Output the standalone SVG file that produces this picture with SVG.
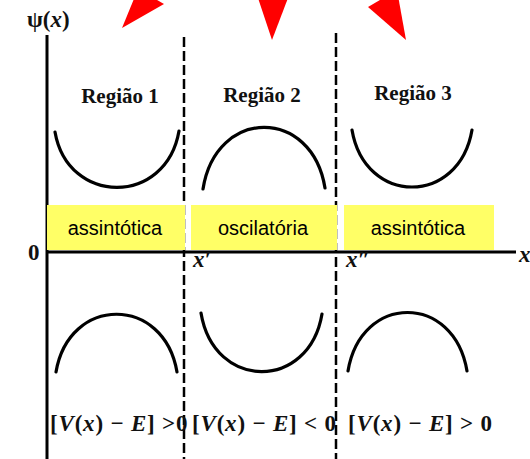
<svg xmlns="http://www.w3.org/2000/svg" width="530" height="459" viewBox="0 0 530 459">
<style>
.axis{stroke:#000;stroke-width:3;fill:none}
.dash{stroke:#000;stroke-width:2.5;stroke-dasharray:10 4;fill:none}
.curve{stroke:#000;stroke-width:3.2;fill:none;stroke-linecap:round}
.arrow{fill:#ff0000}
.box{fill:#ffff66}
.reg{font-family:"Liberation Serif",serif;font-weight:bold;font-size:21px;fill:#111}
.lbl{font-family:"Liberation Sans",Arial,sans-serif;font-size:20px;fill:#000}
.math{font-family:"Liberation Serif",serif;font-weight:bold;font-size:23px;fill:#111}
.cond{letter-spacing:0.8px}
.it{font-style:italic}
</style>
<rect width="530" height="459" fill="#fff"/>
<g id="pointers">
<polygon class="arrow" points="122,28 138,-11 164,4"/>
<polygon class="arrow" points="258,-2 288,-2 272,40"/>
<polygon class="arrow" points="368,7 397,-10 406,40"/>
</g>
<g id="connectors">
<line class="axis" x1="47" y1="35" x2="47" y2="459"/>
<line class="axis" x1="47" y1="252" x2="516" y2="252"/>
<line class="dash" x1="184" y1="37" x2="184" y2="459"/>
<line class="dash" x1="336" y1="33" x2="336" y2="459"/>
</g>
<g id="axis-labels">
<text class="math" x="27" y="27" font-size="17px">ψ(<tspan class="it">x</tspan>)</text>
<text class="math" x="28" y="260" font-size="17px">0</text>
<text class="math it" x="193" y="267" font-size="16px">x′</text>
<text class="math it" x="346" y="267" font-size="16px">x″</text>
<text class="math it" x="519" y="262" font-size="17px">x</text>
</g>
<g id="regiao1">
<text class="reg" x="120" y="103" text-anchor="middle">Região 1</text>
<path class="curve" d="M55,132 C68,206 166,206 179,131"/>
<rect class="box" x="47" y="205" width="138" height="45"/>
<text class="lbl" x="115" y="235" text-anchor="middle">assintótica</text>
<path class="curve" d="M56,372 C69,295 164,295 177,372"/>
<text class="math cond" x="50" y="431">[<tspan class="it">V</tspan>(<tspan class="it">x</tspan>) − <tspan class="it">E</tspan>] &gt;0</text>
</g>
<g id="regiao2">
<text class="reg" x="262" y="102" text-anchor="middle">Região 2</text>
<path class="curve" d="M203,189 C216,107 312,107 325,188"/>
<rect class="box" x="191" y="205" width="146" height="45"/>
<text class="lbl" x="263" y="235" text-anchor="middle">oscilatória</text>
<path class="curve" d="M201,313 C214,391 309,391 322,314"/>
<text class="math cond" x="192" y="431">[<tspan class="it">V</tspan>(<tspan class="it">x</tspan>) − <tspan class="it">E</tspan>] &lt; 0</text>
</g>
<g id="regiao3">
<text class="reg" x="413" y="100" text-anchor="middle">Região 3</text>
<path class="curve" d="M352,130 C365,206 459,206 472,130"/>
<rect class="box" x="344" y="205" width="150" height="45"/>
<text class="lbl" x="418" y="235" text-anchor="middle">assintótica</text>
<path class="curve" d="M348,371 C361,293 454,293 467,371"/>
<text class="math cond" x="348" y="431">[<tspan class="it">V</tspan>(<tspan class="it">x</tspan>) − <tspan class="it">E</tspan>] &gt; 0</text>
</g>
</svg>
